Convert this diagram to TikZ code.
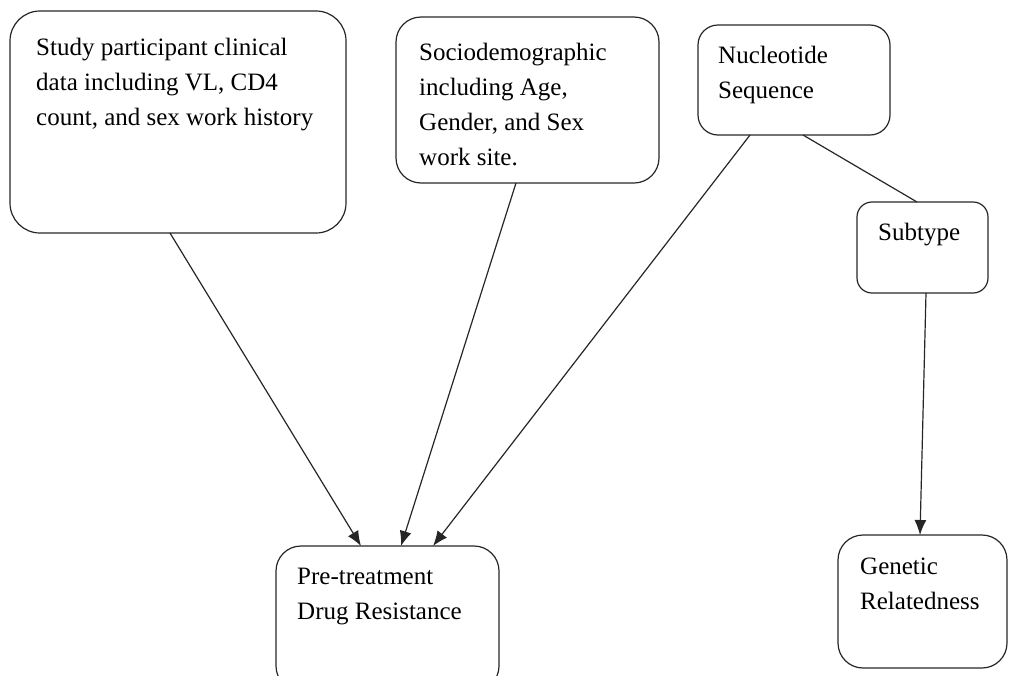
\documentclass[tikz,border=0pt]{standalone}
\usepackage{fontspec}
\setmainfont{Liberation Serif}
\usepackage{tikz}
\usetikzlibrary{arrows.meta}
\usetikzlibrary{positioning}
\tikzstyle{box}=[draw=black!85, line width=1.2pt, anchor=north west,
                inner sep=0pt, outer sep=0pt]
\tikzstyle{txt}=[align=left, inner sep=0pt,
                font=\fontsize{25}{35}\selectfont]
\tikzstyle{link}=[draw=black!85, line width=1.2pt]
\tikzstyle{hit}=[link, -{Latex[length=15pt,width=12pt]}]

\begin{document}
\begin{tikzpicture}[x=1pt, y=1pt]
\useasboundingbox (0,0) rectangle (1009,-675);
\clip (0,0) rectangle (1009,-675);

% boxes
\node[box, rounded corners=30pt, minimum width=336pt, minimum height=222pt] at (10,-11) (study) {};
\node[box, rounded corners=25pt, minimum width=263pt, minimum height=166pt] at (396,-17) (socio) {};
\node[box, rounded corners=20pt, minimum width=192pt, minimum height=110pt] at (698,-25) (nucl) {};
\node[box, rounded corners=15pt, minimum width=131pt, minimum height=91pt] at (857,-202) (subtype) {};
\node[box, rounded corners=25pt, minimum width=223pt, minimum height=145pt] at (276,-546) (pdr) {};
\node[box, rounded corners=25pt, minimum width=169pt, minimum height=133pt] at (838,-535) (gen) {};

% texts
\node[txt, below right=27pt and 26pt of study.north west] (studyT)
  {Study participant clinical\\data including VL, CD4\\count, and sex work history};
\node[txt, below right=26pt and 23pt of socio.north west] (socioT)
  {Sociodemographic\\including Age,\\Gender, and Sex\\work site.};
\node[txt, below right=21pt and 20pt of nucl.north west] (nuclT) {Nucleotide\\Sequence};
\node[txt, below right=21pt and 21pt of subtype.north west] (subtypeT) {Subtype};
\node[txt, below right=22pt and 21pt of pdr.north west] (pdrT) {Pre-treatment\\Drug Resistance};
\node[txt, below right=23pt and 22pt of gen.north west] (genT) {Genetic\\Relatedness};

% connectors
\draw[hit] ([xshift=160pt]study.south west) -- ([xshift=85pt]pdr.north west);
\draw[hit] ([xshift=120pt]socio.south west) -- ([xshift=125pt]pdr.north west);
\draw[hit] ([xshift=52pt]nucl.south west) -- ([xshift=157pt]pdr.north west);
\draw[link] ([xshift=105pt]nucl.south west) -- ([xshift=60pt]subtype.north west);
\draw[hit] ([xshift=69pt]subtype.south west) -- ([xshift=82pt]gen.north west);
\end{tikzpicture}
\end{document}
